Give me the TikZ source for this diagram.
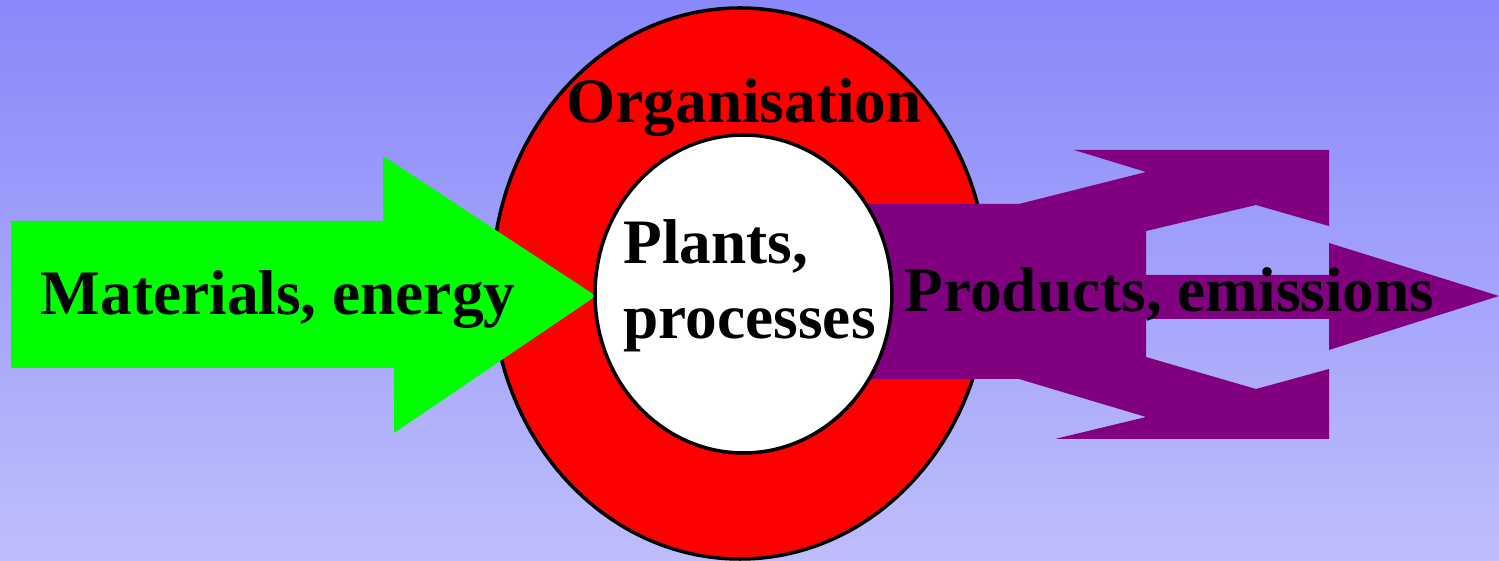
\documentclass[tikz,border=0pt]{standalone}
\usepackage{fontspec}
\setmainfont{Liberation Serif}
\definecolor{bgtop}{RGB}{136,136,250}
\definecolor{bgbot}{RGB}{190,190,252}
\definecolor{ringred}{RGB}{255,0,0}
\definecolor{arrowgreen}{RGB}{0,255,0}
\definecolor{outpurple}{RGB}{128,0,128}
\tikzset{
  lbl/.style={font=\bfseries\fontsize{18pt}{21.6pt}\selectfont, text=black, inner sep=0pt},
  ring/.style={draw=black, line width=1pt},
}
\begin{document}
\begin{tikzpicture}[x=0.01cm,y=-0.01cm]
\useasboundingbox (0,0) rectangle (1499,561);
\shade[top color=bgtop, bottom color=bgbot] (0,0) rectangle (1499,561);
% outer organisation ellipse
\draw[ring, fill=ringred] (740,283.5) ellipse [x radius=248, y radius=275.5];
% input arrow
\fill[arrowgreen] (11,221) -- (383,221) -- (383,156) -- (596,296) -- (394,433) -- (394,368) -- (11,368) -- cycle;
% output arrow
\fill[outpurple] (745,204) -- (1019,204) -- (1146,172) -- (1074,150) -- (1329,150) -- (1329,226)
  -- (1256,205) -- (1146,231) -- (1146,275) -- (1329,275) -- (1329,243) -- (1499,296)
  -- (1329,350) -- (1329,319) -- (1146,319) -- (1146,357) -- (1256,389) -- (1329,369)
  -- (1329,439) -- (1055,439) -- (1146,417) -- (1019,379) -- (745,379) -- cycle;
% inner plants ellipse
\draw[ring, fill=white] (743.5,294) ellipse [x radius=148.5, y radius=159];
% labels
\node[lbl, anchor=base] (org) at (744,123) {Organisation};
\node[lbl, anchor=base] (mat) at (278,315) {Materials, energy};
\node[lbl, anchor=base] (prod) at (1169.5,312) {Products, emissions};
\node[lbl, anchor=base west, align=left] (plants) at (623,339) {Plants,\\processes};
\end{tikzpicture}
\end{document}
